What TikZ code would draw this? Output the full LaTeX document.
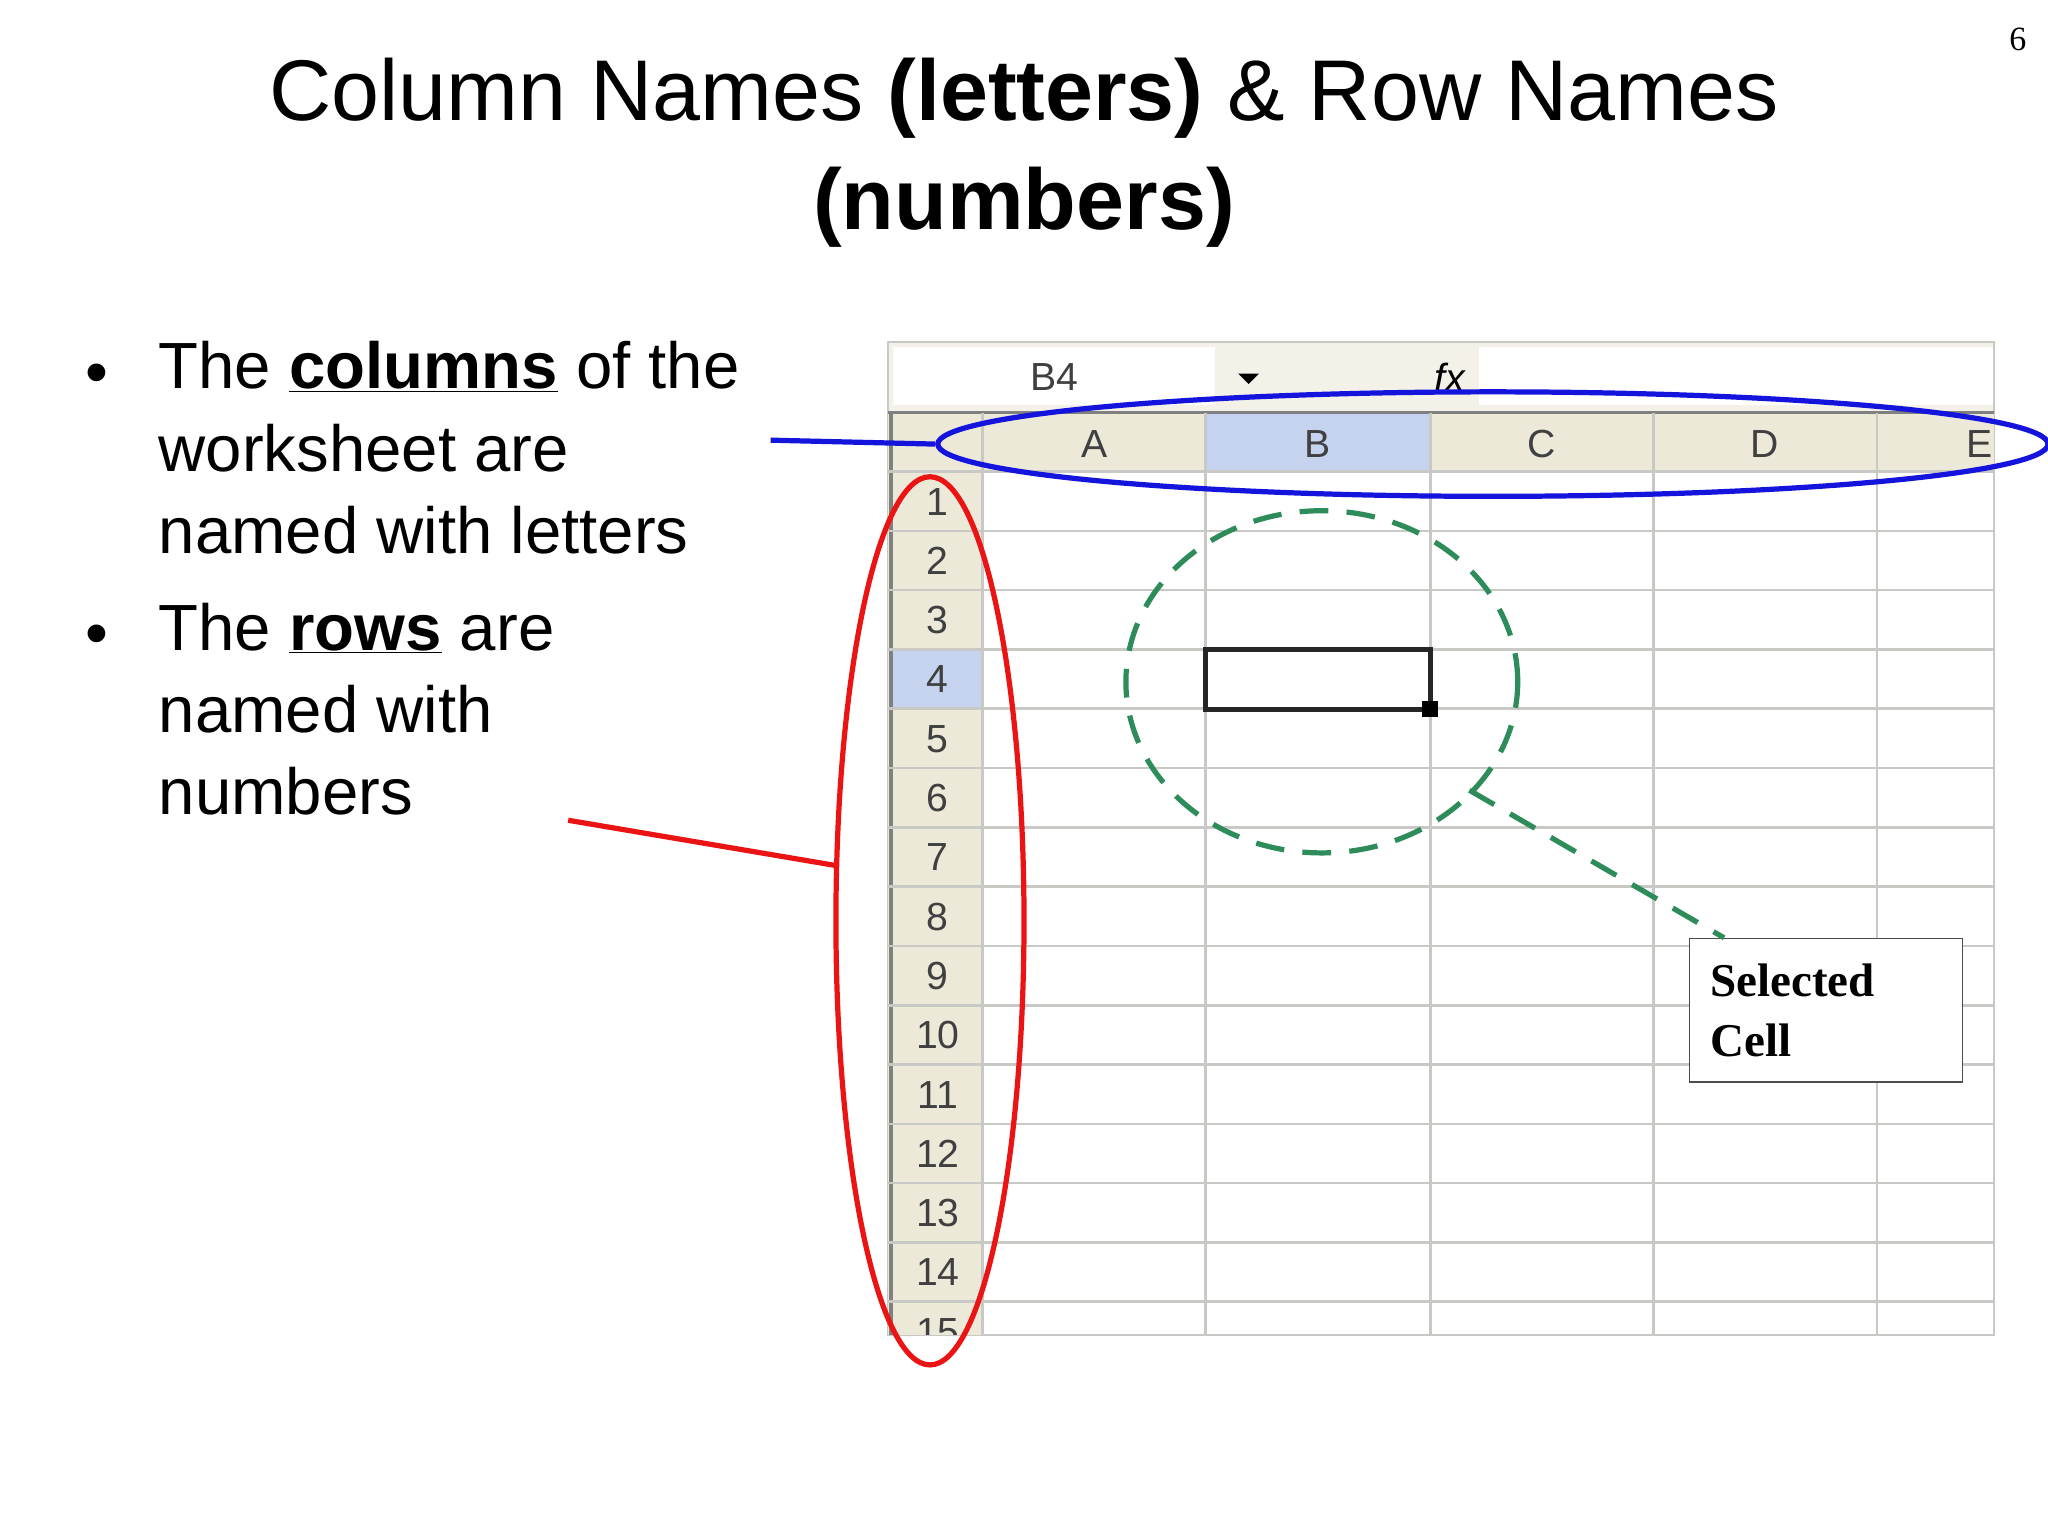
\documentclass[tikz,border=0pt]{standalone}
\usepackage{fontspec}
\setmainfont{Liberation Sans}
\newfontfamily\serifx{Liberation Serif}
\usetikzlibrary{shapes.geometric}
\definecolor{gridc}{RGB}{200,200,196}
\definecolor{hdr}{RGB}{236,233,216}
\definecolor{selh}{RGB}{197,211,238}
\definecolor{bluec}{RGB}{20,20,220}
\definecolor{redc}{RGB}{235,20,20}
\definecolor{greenc}{RGB}{45,140,90}
\tikzset{
 hlab/.style={font=\fontsize{30}{30}\selectfont\color{black!75}},
 body/.style={anchor=north west,align=left,font=\fontsize{50}{63}\selectfont},
}
\begin{document}
\begin{tikzpicture}[x=1pt,y=-1pt]
\useasboundingbox (0,0) rectangle (1568,1176);
\fill[white] (0,0) rectangle (1568,1176);
\node[font=\serifx\fontsize{26}{26}\selectfont] (pg) at (1545,30) {6};
\node[align=center,font=\fontsize{66}{84}\selectfont] (title) at (784,117)
 {Column Names \textbf{(letters)} \& Row Names\\\textbf{(numbers)}};
% bullets
\node[anchor=west,font=\fontsize{50}{50}\selectfont] (d1) at (62,290) {\textbullet};
\node[anchor=west,font=\fontsize{50}{50}\selectfont] (d2) at (62,490) {\textbullet};
\node[body] (t1) at (118,258) {The \textbf{\underline{columns}} of the\\worksheet are\\named with letters};
\node[body] (t2) at (118,458) {The \textbf{\underline{rows}} are\\named with\\numbers};
% spreadsheet
\fill[hdr!60] (680,262) rectangle (1527,316);
\fill[white] (684,266) rectangle (930,310);
\fill[white] (1132,266) rectangle (1527,310);
\node[hlab] (nb) at (807,289) {B4};
\fill (948,286) -- (964,286) -- (956,294) -- cycle;
\node[font=\itshape\fontsize{30}{30}\selectfont] (fx) at (1110,289) {fx};
\draw[gridc,line width=1.5] (680,262) rectangle (1527,1022);
\fill[hdr] (680,316) rectangle (1527,361);
\fill[hdr] (680,361) rectangle (752,1022);
\fill[selh] (923,316) rectangle (1095,361);
\fill[selh] (683,497) rectangle (752,543);
\draw[blue!60,line width=1.5] (923,316) rectangle (1095,361);
\draw[blue!60,line width=1.5] (683,497) rectangle (752,543);
\draw[gray,line width=3] (682,316) -- (682,1022);
\draw[gray,line width=2] (680,316) -- (1527,316);
\foreach \x in {752,923,1095,1266,1437} \draw[gridc,line width=2] (\x,316) -- (\x,1022);
\foreach \i in {0,...,14} \draw[gridc,line width=2] (680,{361+45.4*\i}) -- (1527,{361+45.4*\i});
\foreach \c/\x in {A/838,B/1009,C/1180,D/1351} \node[hlab] (h\c) at (\x,340) {\c};
\node[hlab,anchor=east] (hE) at (1529,340) {E};
\foreach \i in {1,...,14} \node[hlab] (r\i) at (718,{384+45.4*(\i-1)}) {\i};
\begin{scope}
\clip (680,997) rectangle (752,1022);
\node[hlab] (r15) at (718,1020) {15};
\end{scope}
\draw[black!85,line width=4] (923,497) rectangle (1095,543);
\fill[black] (1089,537) rectangle (1101,549);
% annotations
\node[draw=bluec,line width=4,ellipse,minimum width=850,minimum height=80,inner sep=0] (be) at (1143,340) {};
\coordinate (bl) at (590,337);
\draw[bluec,line width=4] (bl) -- (be.west);
\node[draw=redc,line width=4,ellipse,minimum width=144,minimum height=680,inner sep=0] (re) at (712,705) {};
\coordinate (rl) at (435,628);
\draw[redc,line width=4] (rl) -- (642,663);
\node[draw=greenc,dash pattern=on 22 off 14,line width=4,ellipse,minimum width=300,minimum height=262,inner sep=0] (ge) at (1012,522) {};
\node[draw=black!70,line width=1,fill=white,anchor=north west,minimum width=209,minimum height=110,align=left,inner sep=16,font=\serifx\bfseries\fontsize{36}{46}\selectfont,text width=177] (sc) at (1293,718) {Selected\\Cell};
\draw[greenc,dash pattern=on 22 off 14,line width=4] (1125,605) -- (sc.north west -| 1320,718);
\end{tikzpicture}
\end{document}
